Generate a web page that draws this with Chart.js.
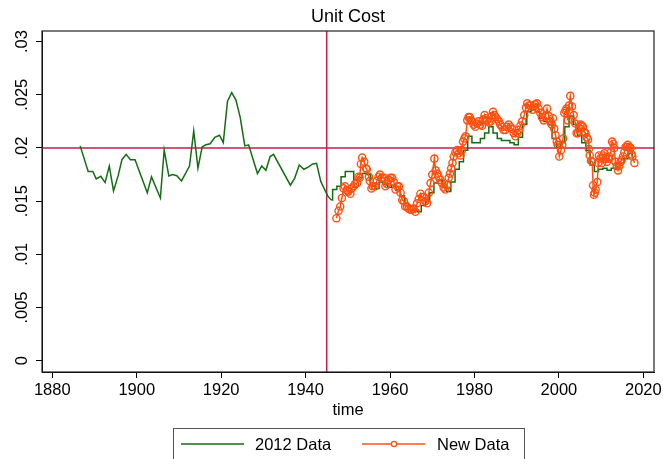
<!DOCTYPE html>
<html>
<head>
<meta charset="utf-8">
<title>Unit Cost</title>
<script src="https://cdn.jsdelivr.net/npm/chart.js@4.4.1/dist/chart.umd.min.js"></script>
<style>
  html, body { margin: 0; padding: 0; background: #fff; }
</style>
</head>
<body>
<canvas id="myChart" width="663" height="459"></canvas>
<script>
/* 2012 data, yearly points up to 1946 */
const oldYears = [1886.6, 1888.5, 1889.6, 1890.4, 1891.5, 1892.5, 1893.5, 1894.5, 1895.6, 1896.5,
  1897.5, 1898.5, 1899.6, 1902.5, 1903.5, 1905.6, 1906.5, 1907.6, 1908.5, 1909.5,
  1910.6, 1912.5, 1913.5, 1914.5, 1915.5, 1916.4, 1917.4, 1918.5, 1919.6, 1920.5,
  1921.5, 1922.5, 1923.5, 1924.5, 1925.6, 1926.5, 1928.6, 1929.6, 1930.6, 1931.6,
  1932.4, 1936.4, 1937.4, 1938.5, 1939.6, 1940.6, 1941.7, 1942.6, 1943.6, 1945.2,
  1946.1];
const oldValues = [.0202, .0178, .0178, .0171, .01734, .01675, .0183, .01596, .0174, .0189,
  .0194, .0189, .0189, .0158, .01728, .0153, .0198, .01737, .0175, .0174,
  .0169, .0183, .0216, .0181, .0201, .0203, .0204, .0210, .0212, .0205,
  .0244, .0252, .0245, .0229, .0202, .0203, .0176, .0183, .0179, .0192,
  .0194, .0165, .01715, .0184, .0180, .0182, .0185, .01856, .01684, .01552,
  .0151];

/* 2012 data after the war, held flat within each year */
const stepYears = [1946.1, 1946.4, 1947.4, 1948.4, 1949.4, 1950.4, 1951.4, 1952.4, 1953.4, 1954.4,
  1955.4, 1956.4, 1957.4, 1958.4, 1959.4, 1960.4, 1961.4, 1962.4, 1963.4, 1964.4,
  1965.4, 1966.4, 1967.4, 1968.4, 1969.4, 1970.4, 1971.4, 1972.4, 1973.4, 1974.4,
  1975.4, 1976.4, 1977.4, 1978.4, 1979.4, 1980.4, 1981.4, 1982.4, 1983.4, 1984.4,
  1985.4, 1986.4, 1987.4, 1988.4, 1989.4, 1990.4, 1991.4, 1992.4, 1993.4, 1994.4,
  1995.4, 1996.4, 1997.4, 1998.4, 1999.4, 2000.4, 2001.4, 2002.4, 2003.4, 2004.4,
  2005.4, 2006.4, 2007.4, 2008.4, 2009.4, 2010.4, 2011.4, 2012.4, 2013.4, 2014.4,
  2015.4, 2016.4, 2017.4];
const stepValues = [.0151, .0161, .0164, .0173, .0178, .0178, .0170, .0172, .0176, .0175,
  .0165, .0162, .0168, .0166, .0163, .0165, .0160, .0155, .0148, .0142,
  .0141, .0140, .0146, .0150, .0158, .0167, .0170, .0163, .0159, .0168,
  .0180, .0187, .0198, .0211, .0205, .0205, .0209, .0214, .0220, .0214,
  .0209, .0207, .0207, .0205, .0203, .0210, .0222, .0234, .0236, .0234,
  .0228, .0225, .0222, .0209, .0200, .0205, .0220, .0230, .0222, .0212,
  .0205, .0198, .0184, .0178, .0180, .0181, .0179, .0181, .0185, .0186,
  .0190, .0195, .0192];

/* New data */
const newYears = [1947.3, 1947.8, 1948.2, 1948.6, 1949.0, 1949.3, 1949.8, 1950.1, 1950.6, 1950.9,
  1951.4, 1951.7, 1952.2, 1952.5, 1952.8, 1953.1, 1953.4, 1953.9, 1954.3, 1954.5,
  1955.0, 1955.2, 1955.6, 1955.9, 1956.5, 1956.9, 1957.3, 1957.6, 1958.1, 1958.6,
  1958.9, 1959.3, 1959.7, 1960.1, 1960.5, 1960.9, 1961.3, 1961.7, 1962.1, 1962.5,
  1962.9, 1963.3, 1963.6, 1964.0, 1964.4, 1964.8, 1965.2, 1965.6, 1966.0, 1966.4,
  1966.8, 1967.2, 1967.6, 1968.0, 1968.4, 1968.8, 1969.2, 1969.6, 1970.0, 1970.5,
  1970.8, 1971.2, 1971.5, 1971.9, 1972.3, 1972.7, 1973.1, 1973.5, 1973.9, 1974.2,
  1974.5, 1974.8, 1975.1, 1975.5, 1975.9, 1976.3, 1976.7, 1977.0, 1977.3, 1977.6,
  1977.9, 1978.3, 1978.6, 1978.9, 1979.2, 1979.4, 1979.8, 1980.2, 1980.6, 1981.0,
  1981.4, 1981.8, 1982.1, 1982.4, 1982.7, 1983.0, 1983.4, 1983.8, 1984.1, 1984.4,
  1984.7, 1985.0, 1985.4, 1985.8, 1986.1, 1986.5, 1986.9, 1987.3, 1987.7, 1988.1,
  1988.5, 1988.9, 1989.3, 1989.7, 1990.1, 1990.5, 1990.9, 1991.3, 1991.8, 1992.2,
  1992.5, 1992.9, 1993.3, 1993.7, 1994.0, 1994.4, 1994.8, 1995.2, 1995.6, 1996.0,
  1996.4, 1996.8, 1997.2, 1997.6, 1998.0, 1998.3, 1998.6, 1998.9, 1999.2, 1999.5,
  1999.7, 2000.1, 2000.5, 2000.8, 2001.0, 2001.3, 2001.6, 2001.8, 2002.1, 2002.4,
  2002.7, 2003.1, 2003.5, 2003.9, 2004.2, 2004.5, 2004.8, 2005.1, 2005.4, 2005.7,
  2006.0, 2006.3, 2006.6, 2006.9, 2007.1, 2007.3, 2007.6, 2007.9, 2008.1, 2008.3,
  2008.5, 2008.7, 2009.1, 2009.3, 2009.5, 2009.8, 2010.2, 2010.5, 2010.8, 2011.1,
  2011.4, 2011.7, 2011.9, 2012.3, 2012.6, 2012.9, 2013.1, 2013.4, 2013.7, 2014.0,
  2014.3, 2014.6, 2014.9, 2015.2, 2015.5, 2015.8, 2016.1, 2016.3, 2016.7, 2017.0,
  2017.2, 2017.4, 2017.9];
const newValues = [.0134, .0141, .0145, .0153, .0162, .0164, .0160, .0159, .0157, .0162,
  .0164, .0166, .0167, .0173, .0172, .0185, .0191, .0187, .0181, .0180,
  .0173, .0169, .0162, .0164, .0164, .0169, .0173, .0175, .0172, .0172,
  .0164, .0166, .0170, .0172, .0172, .0168, .0161, .0164, .0164, .0158,
  .0151, .0150, .0145, .0145, .0143, .0142, .0142, .0143, .0140, .0148,
  .0152, .0157, .0154, .0154, .0150, .0148, .0158, .0167, .0175, .0190,
  .0179, .0176, .0173, .0170, .0167, .0163, .0161, .0165, .0172, .0176,
  .0181, .0186, .0192, .0196, .0198, .0195, .0193, .0198, .0206, .0209,
  .0211, .0226, .0229, .0229, .0226, .0225, .0222, .0220, .0223, .0225,
  .0222, .0221, .0227, .0231, .0228, .0226, .0224, .0225, .0230, .0234,
  .0231, .0229, .0227, .0225, .0222, .0220, .0217, .0217, .0220, .0222,
  .0220, .0218, .0214, .0211, .0214, .0217, .0221, .0225, .0231, .0238,
  .0242, .0240, .0240, .0236, .0239, .0241, .0242, .0237, .0233, .0229,
  .0226, .0230, .0237, .0230, .0225, .0222, .0228, .0218, .0212, .0206,
  .0203, .0192, .0198, .0203, .0209, .0233, .0235, .0237, .0226, .0240,
  .0249, .0239, .0231, .0223, .0214, .0214, .0219, .0222, .0221, .0220,
  .0215, .0214, .0210, .0208, .0199, .0193, .0188, .0187, .0165, .0156,
  .0158, .0161, .0168, .0186, .0193, .0190, .0186, .0193, .0195, .0190,
  .0187, .0190, .0192, .0196, .0206, .0204, .0200, .0187, .0183, .0179,
  .0183, .0187, .0189, .0192, .0196, .0201, .0201, .0203, .0201, .0200,
  .0194, .0192, .0186];

const xTicks = [1880, 1900, 1920, 1940, 1960, 1980, 2000, 2020];
const yTicks = [0, 0.005, 0.01, 0.015, 0.02, 0.025, 0.03];
const yTickLabels = ["0", ".005", ".01", ".015", ".02", ".025", ".03"];
const refYear = 1945;
const refValue = 0.02;

const FONT = '"Liberation Sans", Arial, Helvetica, sans-serif';
const GREEN = "#146c14";
const ORANGE = "#ff5010";
const RED = "#c81e4e";

function toPoints(xs, ys){
    return xs.map((x, i) => ({ x: x, y: ys[i] }));
}

/* reference lines, frame, titles and legend */
const decorations = {
    id: "decorations",
    beforeDatasetsDraw(chart){
        const { ctx, chartArea, scales } = chart;
        const xp = scales.x.getPixelForValue(refYear);
        const yp = scales.y.getPixelForValue(refValue);
        ctx.save();
        ctx.strokeStyle = RED;
        ctx.lineWidth = 1.5;
        ctx.beginPath();
        ctx.moveTo(xp, chartArea.top);
        ctx.lineTo(xp, chartArea.bottom);
        ctx.moveTo(chartArea.left, yp);
        ctx.lineTo(chartArea.right, yp);
        ctx.stroke();
        ctx.restore();
    },
    afterDraw(chart){
        const { ctx, chartArea, scales } = chart;
        ctx.save();

        // plot frame
        ctx.strokeStyle = "#222";
        ctx.lineWidth = 1.2;
        ctx.strokeRect(chartArea.left, chartArea.top, chartArea.right - chartArea.left, chartArea.bottom - chartArea.top);

        ctx.fillStyle = "#000";
        // title
        ctx.font = "18px " + FONT;
        ctx.textAlign = "center";
        ctx.textBaseline = "alphabetic";
        ctx.fillText("Unit Cost", (chartArea.left + chartArea.right) / 2, 22);

        // y tick labels, turned on their side
        ctx.font = "16.5px " + FONT;
        yTicks.forEach((v, i) => {
            const py = scales.y.getPixelForValue(v);
            ctx.save();
            ctx.translate(27, py);
            ctx.rotate(-Math.PI / 2);
            ctx.fillText(yTickLabels[i], 0, 0);
            ctx.restore();
        });

        // x axis title
        ctx.fillText("time", (chartArea.left + chartArea.right) / 2, 415);

        // legend
        ctx.strokeStyle = "#555";
        ctx.lineWidth = 1;
        ctx.strokeRect(173.5, 428.5, 351, 40);

        ctx.lineWidth = 1.6;
        ctx.strokeStyle = GREEN;
        ctx.beginPath();
        ctx.moveTo(181, 444);
        ctx.lineTo(244, 444);
        ctx.stroke();

        ctx.strokeStyle = ORANGE;
        ctx.beginPath();
        ctx.moveTo(362, 444);
        ctx.lineTo(425, 444);
        ctx.stroke();
        ctx.lineWidth = 1.3;
        ctx.fillStyle = "#fff";
        ctx.beginPath();
        ctx.arc(394, 444, 2.6, 0, Math.PI * 2);
        ctx.fill();
        ctx.stroke();

        ctx.fillStyle = "#000";
        ctx.textAlign = "left";
        ctx.fillText("2012 Data", 255, 450);
        ctx.fillText("New Data", 437, 450);

        ctx.restore();
    }
};

function renderGrafica(){
    const ctx = document.getElementById("myChart").getContext("2d");

    const datasets = [
        {
            label: "New Data",
            data: toPoints(newYears, newValues),
            borderColor: ORANGE,
            borderWidth: 1.5,
            pointRadius: 3.6,
            pointBorderWidth: 1.4,
            pointBorderColor: ORANGE,
            pointBackgroundColor: "rgba(255,255,255,0)",
            tension: 0
        },
        {
            label: "2012 Data",
            data: toPoints(stepYears, stepValues),
            borderColor: GREEN,
            borderWidth: 1.5,
            pointRadius: 0,
            stepped: true
        },
        {
            label: "2012 Data",
            data: toPoints(oldYears, oldValues),
            borderColor: GREEN,
            borderWidth: 1.5,
            pointRadius: 0,
            tension: 0
        }
    ];

    const config = {
        type: "line",
        data: { datasets },
        options: {
            responsive: false,
            animation: false,
            devicePixelRatio: 1,
            events: [],
            layout: { padding: { left: 0, right: 9, top: 31, bottom: 0 } },
            plugins: {
                legend: { display: false },
                title: { display: false },
                tooltip: { enabled: false }
            },
            scales: {
                x: {
                    type: "linear",
                    min: 1877.56,
                    max: 2022.53,
                    afterBuildTicks: (scale) => { scale.ticks = xTicks.map(v => ({ value: v })); },
                    afterFit: (scale) => { scale.height = 87; scale.paddingLeft = 0; scale.paddingRight = 0; },
                    ticks: {
                        autoSkip: false,
                        maxRotation: 0,
                        padding: 3,
                        color: "#000",
                        font: { family: FONT, size: 16.5 },
                        callback: (v) => String(v)
                    },
                    grid: { drawOnChartArea: false, drawTicks: true, tickLength: 6, color: "#000" },
                    border: { display: true, color: "#000", width: 1 }
                },
                y: {
                    type: "linear",
                    min: -0.00106,
                    max: 0.0310,
                    afterBuildTicks: (scale) => { scale.ticks = yTicks.map(v => ({ value: v })); },
                    afterFit: (scale) => { scale.width = 42; scale.paddingTop = 0; scale.paddingBottom = 0; },
                    ticks: { display: false },
                    grid: { drawOnChartArea: false, drawTicks: true, tickLength: 6, color: "#000" },
                    border: { display: true, color: "#000", width: 1 }
                }
            }
        },
        plugins: [decorations]
    };

    new Chart(ctx, config);
}

renderGrafica();
</script>
</body>
</html>
